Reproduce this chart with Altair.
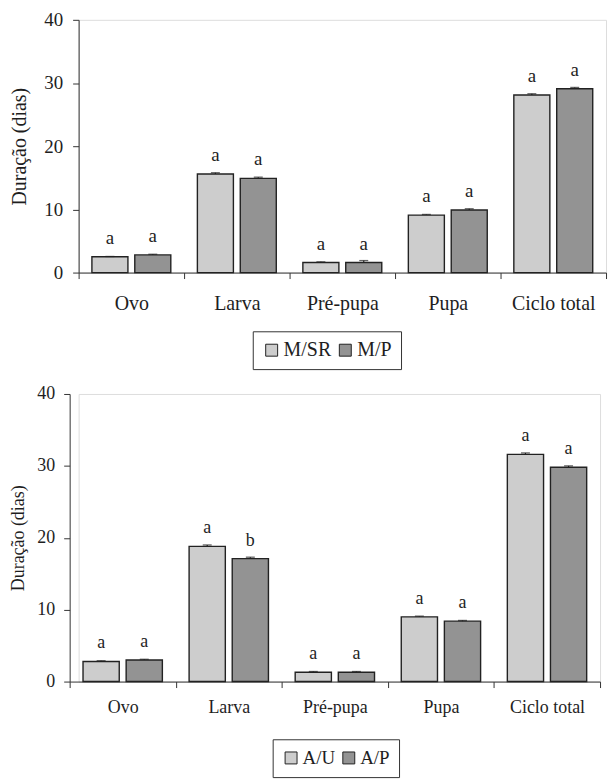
import altair as alt
import pandas as pd

# ---------------- data ----------------
stages = ["Ovo", "Larva", "Pré-pupa", "Pupa", "Ciclo total"]

top_groups = ["M/SR", "M/P"]
top_msr = [2.5, 15.6, 1.6, 9.1, 28.1]
top_mp = [2.8, 14.9, 1.6, 9.9, 29.1]
top_msr_err = [0.05, 0.2, 0.1, 0.1, 0.2]
top_mp_err = [0.1, 0.2, 0.3, 0.2, 0.2]
top_msr_letters = ["a", "a", "a", "a", "a"]
top_mp_letters = ["a", "a", "a", "a", "a"]

bot_groups = ["A/U", "A/P"]
bot_au = [2.8, 18.8, 1.3, 9.0, 31.6]
bot_ap = [3.0, 17.1, 1.3, 8.4, 29.8]
bot_au_err = [0.1, 0.2, 0.1, 0.1, 0.2]
bot_ap_err = [0.1, 0.2, 0.1, 0.1, 0.2]
bot_au_letters = ["a", "a", "a", "a", "a"]
bot_ap_letters = ["a", "b", "a", "a", "a"]

y_ticks = [0, 10, 20, 30, 40]
y_title = "Duração (dias)"

FONT = "Liberation Serif"
TXT = "#1e1e1e"
AX = "#333333"
LIGHT = "#cdcdcd"
DARK = "#939393"


def make_df(groups, va, vb, ea, eb, la, lb):
    rows = []
    for g, vals, errs, lets in [(groups[0], va, ea, la), (groups[1], vb, eb, lb)]:
        for s, v, e, l in zip(stages, vals, errs, lets):
            rows.append(dict(stage=s, group=g, value=v, hi=v + e, letter=l))
    return pd.DataFrame(rows)


def panel(df, groups, w, h, fs_tick, fs_title, fs_cat, fs_letter, fs_leg,
          title_pad, label_pad, cat_pad, leg_x, leg_y, shift):
    xscale = alt.Scale(paddingInner=0, paddingOuter=0)
    if shift:
        xscale = alt.Scale(paddingInner=0, paddingOuter=0, range=[-shift, w])
    x = alt.X("stage:N", sort=stages, scale=xscale,
              axis=alt.Axis(title=None, labelAngle=0, tickBand="extent",
                            labelFont=FONT, labelFontSize=fs_cat, labelColor=TXT,
                            labelPadding=cat_pad, tickSize=6, domainColor=AX,
                            tickColor=AX, labelLimit=0))
    xo = alt.XOffset("group:N", sort=groups,
                     scale=alt.Scale(paddingInner=0.16, paddingOuter=0.31))
    yaxis = alt.Axis(values=y_ticks, grid=False, tickSize=6, labelPadding=label_pad,
                     labelFont=FONT, labelFontSize=fs_tick, labelColor=TXT,
                     titleFont=FONT, titleFontSize=fs_title, titleFontWeight="normal",
                     titleColor=TXT, titlePadding=title_pad, domainColor=AX,
                     tickColor=AX, offset=shift)
    yscale = alt.Scale(domain=[0, 40], nice=False, zero=True)

    base = alt.Chart(df)
    bars = base.mark_bar(stroke="#222222", strokeWidth=1.4).encode(
        x=x, xOffset=xo,
        y=alt.Y("value:Q", scale=yscale, axis=yaxis, title=y_title),
        color=alt.Color("group:N", sort=groups,
                        scale=alt.Scale(domain=groups, range=[LIGHT, DARK]),
                        legend=alt.Legend(title=None, orient="none", legendX=leg_x,
                                          legendY=leg_y, direction="horizontal",
                                          symbolType="square", symbolSize=144,
                                          symbolStrokeColor="#222222",
                                          symbolStrokeWidth=1,
                                          labelFont=FONT, labelFontSize=fs_leg,
                                          labelColor=TXT, labelOffset=2,
                                          columnPadding=4, padding=9,
                                          strokeColor="#333333", fillColor="white")),
    )
    err = base.mark_rule(color="#222222", strokeWidth=1.2).encode(
        x=x, xOffset=xo,
        y=alt.Y("value:Q", scale=yscale, axis=yaxis, title=y_title),
        y2="hi:Q",
    )
    cap = base.mark_tick(color="#222222", thickness=1.3, size=9, orient="horizontal").encode(
        x=x, xOffset=xo,
        y=alt.Y("hi:Q", scale=yscale, axis=yaxis, title=y_title),
    )
    letters = base.mark_text(baseline="alphabetic", dy=-13, font=FONT,
                             fontSize=fs_letter, color=TXT).encode(
        x=x, xOffset=xo,
        y=alt.Y("value:Q", scale=yscale, axis=yaxis, title=y_title),
        text="letter:N",
    )
    return alt.layer(bars, err, cap, letters).properties(width=w, height=h)


top_df = make_df(top_groups, top_msr, top_mp, top_msr_err, top_mp_err,
                 top_msr_letters, top_mp_letters)
bot_df = make_df(bot_groups, bot_au, bot_ap, bot_au_err, bot_ap_err,
                 bot_au_letters, bot_ap_letters)

top = panel(top_df, top_groups, 530, 254, 19, 20, 20, 19, 20,
            14, 10, 15, 175, 313, 0)
bottom = panel(bot_df, bot_groups, 524, 289, 18, 18, 18, 18, 19,
               9, 9, 11, 195, 347, 9)

chart = alt.concat(top, bottom, columns=1, spacing=14, align="none",
                   padding={"left": 9, "top": 8, "right": 0, "bottom": 0}
                   ).resolve_scale(color="independent", x="independent", y="independent",
                                   xOffset="independent"
                   ).configure_view(stroke=None).configure(background="white")

chart.save("out.html", embed_options={"renderer": "svg", "actions": False})
